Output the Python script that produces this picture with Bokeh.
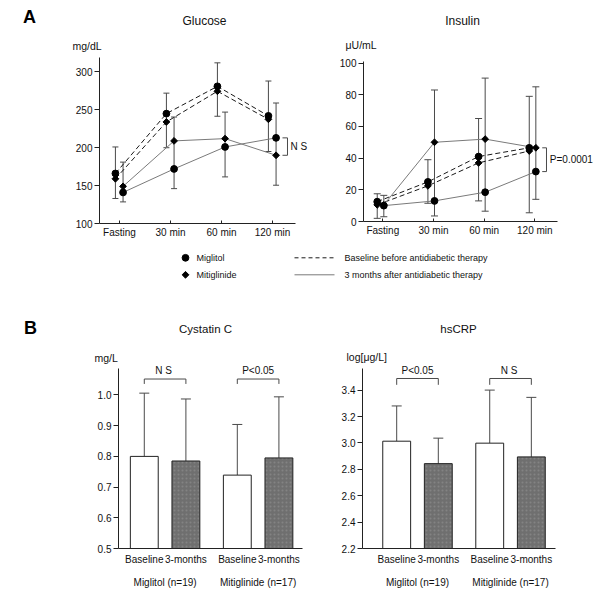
import math
from bokeh.plotting import figure
from bokeh.models import (Range1d, FixedTicker, LinearAxis, Label, Whisker, TeeHead,
                          ColumnDataSource, NumeralTickFormatter)
from bokeh.layouts import column, row
from bokeh.embed import file_html
from bokeh.resources import INLINE
from bokeh.core.properties import value

FONT = "Liberation Sans"

# ------------------------------------------------------------------ data
time_points = ["Fasting", "30 min", "60 min", "120 min"]
drug_names = ["Miglitol", "Mitiglinide"]
period_names = ["Baseline before antidiabetic therapy", "3 months after antidiabetic therapy"]

glucose_miglitol_baseline = [166, 245, 281, 242]
glucose_mitiglinide_baseline = [159, 234, 274.5, 237.5]
glucose_miglitol_3months = [141, 172, 201, 213]
glucose_mitiglinide_3months = [149, 209, 212, 190]
glucose_baseline_err_low = [133, 200, 241.5, 195]
glucose_baseline_err_high = [201, 272, 312, 288]
glucose_3months_err_low = [128.5, 146, 161.5, 150.5]
glucose_3months_err_high = [181, 240.5, 247, 259]
glucose_yticks = [100, 150, 200, 250, 300]
glucose_p_text = "N S"

insulin_miglitol_baseline = [12.5, 25, 41, 46.5]
insulin_mitiglinide_baseline = [10.5, 22.5, 37, 44.5]
insulin_miglitol_3months = [10, 13, 18.5, 31.5]
insulin_mitiglinide_3months = [10.5, 50, 52, 46.5]
insulin_baseline_err_low = [2, 11.5, 13, 5.5]
insulin_baseline_err_high = [17.5, 39, 65, 79]
insulin_3months_err_low = [3, 3.5, 6.5, 14]
insulin_3months_err_high = [16.5, 83, 90.5, 85]
insulin_yticks = [0, 20, 40, 60, 80, 100]
insulin_p_text = "P=0.0001"

bar_groups = ["Miglitol (n=19)", "Mitiglinide (n=17)"]
bar_periods = ["Baseline", "3-months"]
cystatin_mean = [0.800, 0.785, 0.739, 0.795]
cystatin_sd = [0.206, 0.202, 0.165, 0.199]
cystatin_p_text = ["N  S", "P<0.05"]
cystatin_yticks = [0.5, 0.6, 0.7, 0.8, 0.9, 1.0]

hscrp_mean = [3.013, 2.843, 2.998, 2.894]
hscrp_sd = [0.267, 0.193, 0.402, 0.451]
hscrp_p_text = ["P<0.05", "N  S"]
hscrp_yticks = [2.2, 2.4, 2.6, 2.8, 3.0, 3.2, 3.4]

# ------------------------------------------------------------------ styles
AXIS_COLOR = "#222222"
DASH_COLOR = "#1a1a1a"
SOLID_COLOR = "#7a7a7a"
ERR_COLOR = "#4a4a4a"
MARK_COLOR = "#000000"
GRAY_BAR = "#6f6f6f"
TEXT_COLOR = "#111111"
DASH = "5 3"


def make_fig(canvas, frame, xr, yr):
    cx0, cy0, cx1, cy1 = canvas
    fx0, fy0, fx1, fy1 = frame
    p = figure(frame_width=fx1 - fx0, frame_height=fy1 - fy0,
               min_border_left=fx0 - cx0, min_border_right=cx1 - fx1,
               min_border_top=fy0 - cy0, min_border_bottom=cy1 - fy1,
               x_range=Range1d(*xr), y_range=Range1d(*yr),
               x_axis_type=None, y_axis_type=None,
               output_backend="svg", toolbar_location=None)
    p.outline_line_color = None
    p.background_fill_color = "white"
    p.border_fill_color = "white"
    return p


def text_strip(canvas):
    """A figure whose data coordinates are page pixels (y downward), for titles etc."""
    x0, y0, x1, y1 = canvas
    return make_fig(canvas, canvas, (x0, x1), (y1, y0))


def style_axis(ax):
    ax.axis_line_color = AXIS_COLOR
    ax.axis_line_width = 1
    ax.major_tick_line_color = AXIS_COLOR
    ax.minor_tick_line_color = None
    ax.major_label_text_font = FONT
    ax.major_label_text_font_size = "10px"
    ax.major_label_text_color = TEXT_COLOR


def y_axis(p, ticks, fmt, bounds):
    ax = LinearAxis(ticker=FixedTicker(ticks=ticks), formatter=NumeralTickFormatter(format=fmt),
                    bounds=bounds)
    style_axis(ax)
    ax.major_tick_out = 5
    ax.major_tick_in = 0
    ax.major_label_standoff = 2
    p.add_layout(ax, "left")


def line_panel(canvas, frame, xr, yr, xbounds, ybounds, yticks, series, errs, offsets, cap, bracket):
    p = make_fig(canvas, frame, xr, yr)
    y_axis(p, yticks, "0", ybounds)
    xax = LinearAxis(ticker=FixedTicker(ticks=list(range(len(time_points)))),
                     major_label_overrides={i: t for i, t in enumerate(time_points)},
                     bounds=xbounds)
    style_axis(xax)
    xax.major_tick_in = 3
    xax.major_tick_out = 0
    xax.major_label_standoff = 3
    p.add_layout(xax, "below")

    n = len(time_points)
    for (drug, period), vals in series.items():
        xs = [i + offsets[period] for i in range(n)]
        if period == 0:
            p.line(xs, vals, line_color=DASH_COLOR, line_width=1, line_dash=DASH)
        else:
            p.line(xs, vals, line_color=SOLID_COLOR, line_width=1)
    for period, (lo, hi) in errs.items():
        xs = [i + offsets[period] for i in range(n)]
        src = ColumnDataSource(dict(x=xs, lo=lo, hi=hi))
        p.add_layout(Whisker(base="x", lower="lo", upper="hi", source=src,
                             line_color=ERR_COLOR, line_width=1,
                             upper_head=TeeHead(size=cap, line_color=ERR_COLOR, line_width=1),
                             lower_head=TeeHead(size=cap, line_color=ERR_COLOR, line_width=1)))
    for (drug, period), vals in series.items():
        xs = [i + offsets[period] for i in range(n)]
        if drug == 0:
            p.scatter(xs, vals, marker="circle", size=6.8, fill_color=MARK_COLOR, line_color=MARK_COLOR)
        else:
            p.scatter(xs, vals, marker="square", size=4.8, angle=math.pi / 4,
                      fill_color=MARK_COLOR, line_color=MARK_COLOR)
    # significance bracket at the last time point between the two 3-month curves
    (bx0, bx1, tx), text = bracket
    last = n - 1
    a, b = series[(0, 1)][last], series[(1, 1)][last]
    y_top, y_bot = max(a, b), min(a, b)
    p.line([last + bx0, last + bx1, last + bx1, last + bx0], [y_top, y_top, y_bot, y_bot],
           line_color=ERR_COLOR, line_width=1)
    p.add_layout(Label(x=last + tx, y=(y_top + y_bot) / 2, text=text, text_font=FONT,
                       text_font_size="10px", text_align="left", text_baseline="middle",
                       text_color=TEXT_COLOR))
    return p


# ------------------------------------------------------------------ top titles strip
top = text_strip((0, 0, 596, 54))
top.text(x=[29], y=[16], text=["A"], text_font=value(FONT), text_font_size="18px",
         text_font_style="bold", text_align="center", text_baseline="middle", text_color="#000000")
top.text(x=[204, 462], y=[20, 20], text=["Glucose", "Insulin"], text_font=value(FONT),
         text_font_size="12px", text_align="center", text_baseline="middle", text_color=TEXT_COLOR)
top.text(x=[72, 345], y=[45, 44], text=["mg/dL", "\u03bcU/mL"], text_font=value(FONT),
         text_font_size="10.5px", text_align="left", text_baseline="middle", text_color=TEXT_COLOR)

# ------------------------------------------------------------------ Glucose
glu = line_panel(canvas=(0, 54, 308, 243), frame=(99, 54, 308, 223),
                 xr=(-0.392, 3.706), yr=(100, 323.0), xbounds=(-0.392, 3.451), ybounds=(100, 319),
                 yticks=glucose_yticks,
                 series={(0, 0): glucose_miglitol_baseline, (1, 0): glucose_mitiglinide_baseline,
                         (0, 1): glucose_miglitol_3months, (1, 1): glucose_mitiglinide_3months},
                 errs={0: (glucose_baseline_err_low, glucose_baseline_err_high),
                       1: (glucose_3months_err_low, glucose_3months_err_high)},
                 offsets={0: -0.08, 1: 0.07}, cap=6,
                 bracket=((0.196, 0.294, 0.353), glucose_p_text))

# ------------------------------------------------------------------ Insulin
ins = line_panel(canvas=(308, 54, 596, 243), frame=(363, 54, 596, 221),
                 xr=(-0.381, 4.217), yr=(0, 105.4), xbounds=(-0.381, 3.448), ybounds=(0, 101),
                 yticks=insulin_yticks,
                 series={(0, 0): insulin_miglitol_baseline, (1, 0): insulin_mitiglinide_baseline,
                         (0, 1): insulin_miglitol_3months, (1, 1): insulin_mitiglinide_3months},
                 errs={0: (insulin_baseline_err_low, insulin_baseline_err_high),
                       1: (insulin_3months_err_low, insulin_3months_err_high)},
                 offsets={0: -0.11, 1: 0.02}, cap=7,
                 bracket=((0.146, 0.23, 0.296), insulin_p_text))

# ------------------------------------------------------------------ legend + panel B titles strip
mid = text_strip((0, 243, 596, 364))
mid.scatter([185], [257.3], marker="circle", size=6.8, fill_color=MARK_COLOR, line_color=MARK_COLOR)
mid.scatter([185], [274.3], marker="square", size=4.8, angle=math.pi / 4,
            fill_color=MARK_COLOR, line_color=MARK_COLOR)
mid.line([294, 334], [257.3, 257.3], line_color=DASH_COLOR, line_dash="4 3", line_width=1)
mid.line([294, 334], [274.3, 274.3], line_color=SOLID_COLOR, line_width=1)
mid.text(x=[196, 196, 344, 344], y=[257.3, 274.3, 257.3, 274.3],
         text=drug_names + period_names, text_font=value(FONT), text_font_size="9px",
         text_baseline="middle", text_align="left", text_color=TEXT_COLOR)
mid.text(x=[30], y=[327], text=["B"], text_font=value(FONT), text_font_size="18px",
         text_font_style="bold", text_align="center", text_baseline="middle", text_color="#000000")
mid.text(x=[205, 458], y=[328, 328], text=["Cystatin C", "hsCRP"], text_font=value(FONT),
         text_font_size="11.5px", text_align="center", text_baseline="middle", text_color=TEXT_COLOR)
mid.text(x=[94, 346], y=[357, 356], text=["mg/L", "log[\u03bcg/L]"], text_font=value(FONT),
         text_font_size="10.5px", text_align="left", text_baseline="middle", text_color=TEXT_COLOR)

# ------------------------------------------------------------------ bar panels
GROUP_GAP = 2.236
BAR_W = 0.67


def bar_panel(canvas, frame, xr, yr, ybounds, yticks, means, sds, ptexts, bracket_y, drop, text_y):
    p = make_fig(canvas, frame, xr, yr)
    y_axis(p, yticks, "0.0", ybounds)
    xs = [g * GROUP_GAP + k for g in range(len(bar_groups)) for k in range(len(bar_periods))]
    xax = LinearAxis(ticker=FixedTicker(ticks=xs),
                     major_label_overrides={x: bar_periods[i % 2] for i, x in enumerate(xs)})
    style_axis(xax)
    xax.major_tick_in = 0
    xax.major_tick_out = 0
    xax.major_label_standoff = 5
    p.add_layout(xax, "below")
    gx = [g * GROUP_GAP + 0.5 for g in range(len(bar_groups))]
    gax = LinearAxis(ticker=FixedTicker(ticks=gx),
                     major_label_overrides={x: bar_groups[i] for i, x in enumerate(gx)})
    style_axis(gax)
    gax.axis_line_color = None
    gax.major_tick_in = 0
    gax.major_tick_out = 0
    gax.major_label_standoff = 9
    p.add_layout(gax, "below")

    base = yr[0]
    p.vbar(x=xs[0::2], top=means[0::2], bottom=base, width=BAR_W, fill_color="white",
           line_color="#222222", line_width=1)
    p.vbar(x=xs[1::2], top=means[1::2], bottom=base, width=BAR_W, fill_color=GRAY_BAR,
           line_color="#222222", line_width=1, hatch_pattern="dot", hatch_color="#9c9c9c",
           hatch_scale=4, hatch_weight=1, hatch_alpha=0.45)
    src = ColumnDataSource(dict(x=xs, lo=means, hi=[m + s for m, s in zip(means, sds)]))
    p.add_layout(Whisker(base="x", lower="lo", upper="hi", source=src, line_color=ERR_COLOR,
                         line_width=1, lower_head=None,
                         upper_head=TeeHead(size=10, line_color=ERR_COLOR, line_width=1)))
    for g, t in enumerate(ptexts):
        x0 = g * GROUP_GAP
        x1 = x0 + 1
        p.line([x0, x0, x1, x1], [bracket_y - drop, bracket_y, bracket_y, bracket_y - drop],
               line_color=ERR_COLOR, line_width=1)
        p.add_layout(Label(x=(x0 + x1) / 2, y=text_y, text=t, text_font=FONT,
                           text_font_size="10px", text_align="center", text_baseline="middle",
                           text_color=TEXT_COLOR))
    return p


cys = bar_panel(canvas=(0, 364, 308, 592), frame=(118, 364, 302, 548),
                xr=(-0.620, 3.803), yr=(0.5, 1.0993), ybounds=(0.5, 1.0863),
                yticks=cystatin_yticks, means=cystatin_mean, sds=cystatin_sd,
                ptexts=cystatin_p_text, bracket_y=1.052, drop=0.016, text_y=1.079)

crp = bar_panel(canvas=(308, 364, 596, 592), frame=(362, 364, 555, 548),
                xr=(-0.822, 3.817), yr=(2.2, 3.594), ybounds=(2.2, 3.5636),
                yticks=hscrp_yticks, means=hscrp_mean, sds=hscrp_sd,
                ptexts=hscrp_p_text, bracket_y=3.488, drop=0.048, text_y=3.546)

layout = column(top, row(glu, ins), mid, row(cys, crp))
open("out.html", "w").write(file_html(layout, INLINE))
